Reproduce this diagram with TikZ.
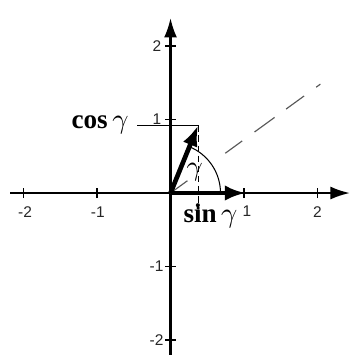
\documentclass[tikz,border=0pt]{standalone}
\usepackage{fontspec}
\setmainfont{Liberation Serif}
\newfontfamily\ticksans{Liberation Sans}
\usetikzlibrary{arrows.meta}
\begin{document}
\begin{tikzpicture}[
  axisline/.style={line width=0.8pt, -{Latex[length=7.5pt,width=5pt]}},
  vecline/.style={line width=1.8pt, -{Latex[length=8pt,width=6pt]}},
  thinline/.style={line width=0.4pt},
  tickmark/.style={line width=0.6pt},
  ticklab/.style={font=\ticksans\fontsize{6}{7}\selectfont, inner sep=0pt, text=black!85},
  biglab/.style={font=\fontsize{10.5}{12}\selectfont, inner sep=0pt},
]
\useasboundingbox (-2.320,-2.299) rectangle (2.456,2.626);
% key points
\coordinate (O) at (0,0);
\coordinate (xL) at (-2.18,0);
\coordinate (xR) at (2.44,0);
\coordinate (yB) at (0,-2.20);
\coordinate (yT) at (0,2.38);
\coordinate (P) at (0.375,0.92);
\coordinate (E) at (1.02,0);
\coordinate (cl) at (-0.456,0.92);
\coordinate (sB) at (0.375,-0.204);
\coordinate (D) at (36:2.52);
% axes
\draw[axisline] (xL) -- (xR);
\draw[axisline] (yB) -- (yT);
% ticks
\foreach \t in {-2,-1,1,2} {
  \draw[tickmark] (\t,-0.07) -- (\t,0.07);
  \draw[tickmark] (-0.07,\t) -- (0.07,\t);
}
% tick labels
\node[ticklab] (xm2) at (-1.98,-0.26) {-2};
\node[ticklab] (xm1) at (-0.99,-0.26) {-1};
\node[ticklab] (xp1) at (1.04,-0.25) {1};
\node[ticklab] (xp2) at (2.0,-0.26) {2};
\node[ticklab, anchor=east] (yp2) at (-0.12,2) {2};
\node[ticklab, anchor=east] (yp1) at (-0.12,1) {1};
\node[ticklab, anchor=east] (ym1) at (-0.09,-1) {-1};
\node[ticklab, anchor=east] (ym2) at (-0.09,-2) {-2};
% diagonal dashed line
\draw[gray!70!black, line width=0.45pt,
  dash pattern=on 8.1pt off 18.1pt on 8.1pt off 5.9pt on 9.6pt off 5.5pt on 8.6pt off 5.8pt on 10pt]
  (O) -- (D);
% helper lines
\draw[thinline] (cl) -- (P);
\draw[thinline, dash pattern=on 2.6pt off 1.3pt] (P) -- (sB);
\fill (sB) circle (0.7pt);
% arc
\draw[thinline] (0.68,0) arc[start angle=0,end angle=68,radius=0.68];
% vectors
\draw[vecline] (O) -- (P);
\draw[vecline] (O) -- (E);
% labels
\node[biglab, anchor=base east] (cos) at (-0.565,0.88) {\textbf{cos}\,$\gamma$};
\node[biglab, anchor=base west] (sin) at (0.17,-0.395) {\textbf{sin}\,$\gamma$};
\node[biglab] (g) at (0.33,0.29) {$\gamma$};
\end{tikzpicture}
\end{document}
